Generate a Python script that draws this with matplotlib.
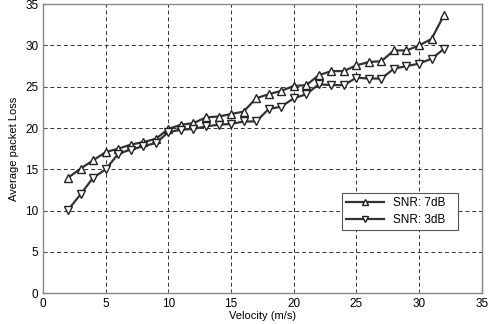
import matplotlib
matplotlib.use("Agg")
import matplotlib.pyplot as plt

velocity = list(range(2, 33))
snr7 = [14.0, 15.1, 16.1, 17.1, 17.5, 18.0, 18.3, 18.7, 19.9, 20.4, 20.6, 21.3, 21.4, 21.7,
        22.0, 23.6, 24.1, 24.5, 25.1, 25.2, 26.4, 26.9, 26.9, 27.6, 28.0, 28.1, 29.4, 29.4,
        30.0, 30.8, 33.7]
snr3 = [10.1, 12.0, 14.0, 15.0, 16.9, 17.4, 17.8, 18.2, 19.5, 19.8, 19.9, 20.2, 20.4, 20.5,
        20.8, 20.8, 22.3, 22.6, 23.6, 24.1, 25.3, 25.2, 25.2, 26.1, 26.0, 26.0, 27.2, 27.5,
        27.8, 28.4, 29.6]
xticks = [0, 5, 10, 15, 20, 25, 30, 35]
yticks = [0, 5, 10, 15, 20, 25, 30, 35]

plt.rcParams['font.family'] = ['Liberation Sans', 'DejaVu Sans']

fig = plt.figure(figsize=(4.9, 3.24), dpi=100)
ax = fig.add_axes([0.088, 0.095, 0.895, 0.892])

ax.plot(velocity, snr7, color='#333333', lw=1.6, marker='^', ms=6,
        mfc='white', mec='#222222', mew=1.0, label='SNR: 7dB')
ax.plot(velocity, snr3, color='#333333', lw=1.6, marker='v', ms=6,
        mfc='white', mec='#222222', mew=1.0, label='SNR: 3dB')

ax.set_xlim(0, 35)
ax.set_ylim(0, 35)
ax.set_xticks(xticks)
ax.set_yticks(yticks)
ax.grid(True, linestyle=(0, (4, 3)), color='#333333', lw=0.7)
ax.tick_params(labelsize=8.5, length=3, color='#555555', direction='in')
for s in ax.spines.values():
    s.set_color('#888888')
    s.set_linewidth(1.0)

ax.set_xlabel('Velocity (m/s)', fontsize=8, labelpad=1)
ax.set_ylabel('Average packet Loss', fontsize=8, labelpad=4)

leg = ax.legend(loc='lower left', bbox_to_anchor=(0.681, 0.219, 0.266, 0.124),
                mode='expand', fontsize=8.5, fancybox=False, framealpha=1,
                edgecolor='#555555', handlelength=3.2, borderaxespad=0,
                labelspacing=0.4, borderpad=0.35, markerscale=0.75)
leg.get_frame().set_linewidth(0.8)

fig.savefig('out.png', dpi=100)
